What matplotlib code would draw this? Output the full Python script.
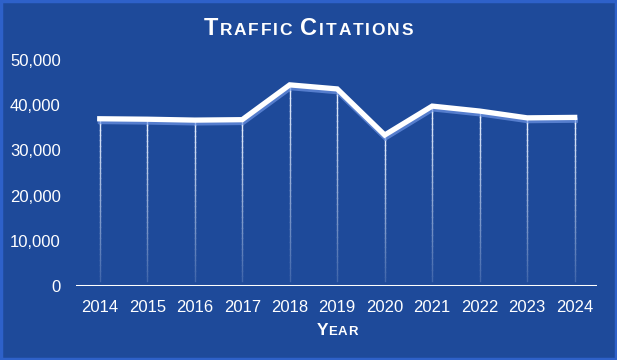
import numpy as np
import matplotlib
matplotlib.use('Agg')
import matplotlib.pyplot as plt
import matplotlib.patheffects as pe
from matplotlib.collections import LineCollection
from matplotlib.colors import to_rgb
from matplotlib.patches import Rectangle
from matplotlib.ticker import FuncFormatter

# data
years = [2014, 2015, 2016, 2017, 2018, 2019, 2020, 2021, 2022, 2023, 2024]
citations = [37000, 36900, 36700, 36800, 44500, 43600, 33400, 39800, 38700, 37200, 37300]
y_ticks = [0, 10000, 20000, 30000, 40000, 50000]

BG = '#1e4a9a'
FONT = 'Liberation Sans'


def small_caps(fig, text, xc, yc, big, small, spacing=1.5):
    # draw text in fake small caps, centred at (xc, yc) in figure pixels
    r = fig.canvas.get_renderer()
    pieces = []
    prev_space = True
    for ch in text:
        if ch == ' ':
            pieces.append((' ', small))
            prev_space = True
            continue
        size = big if prev_space else small
        pieces.append((ch.upper(), size))
        prev_space = False
    objs = []
    widths = []
    for ch, size in pieces:
        t = fig.text(0, 0, ch if ch != ' ' else 'I', fontsize=size, fontweight='bold',
                     color='white', family=FONT, va='baseline', ha='left',
                     transform=None)
        w = t.get_window_extent(r).width
        if ch == ' ':
            t.remove()
            t = None
        objs.append(t)
        widths.append(w)
    total = sum(widths) + spacing * (len(widths) - 1)
    x = xc - total / 2
    for t, w in zip(objs, widths):
        if t is not None:
            t.set_position((x, yc))
        x += w + spacing


def main():
    fig = plt.figure(figsize=(6.17, 3.6), dpi=100, facecolor=BG)
    ax = fig.add_axes([76 / 617, 74 / 360, 521 / 617, 226 / 360])
    ax.set_facecolor(BG)

    x = np.array(years, dtype=float)
    y = np.array(citations, dtype=float)

    # vertical drop lines fading toward the axis (opaque colour blend)
    top = np.array(to_rgb('#e8f0ff'))
    bot = np.array(to_rgb(BG))
    segs = []
    cols = []
    n = 30
    for xi, yi in zip(x, y):
        ys = np.linspace(yi, 1000, n + 1)
        for k in range(n):
            segs.append([(xi, ys[k]), (xi, ys[k + 1])])
            f = 0.85 * k / n
            cols.append(tuple(top * (1 - f) + bot * f))
    ax.add_collection(LineCollection(segs, colors=cols, linewidths=1.0, zorder=2,
                                     capstyle='projecting'))

    ax.plot(x, y, color='white', lw=3.8, solid_joinstyle='miter', zorder=3,
            path_effects=[pe.SimpleLineShadow(offset=(0.5, -2.0), shadow_color='#6d94e4',
                                              alpha=0.7),
                          pe.Normal()])

    ax.axhline(0, color='white', lw=2.2, zorder=4)

    ax.set_xlim(2013.5, 2024.47)
    ax.set_ylim(0, 50000)
    ax.set_xticks(years)
    ax.set_yticks(y_ticks)
    ax.yaxis.set_major_formatter(FuncFormatter(lambda v, p: f'{int(v):,}'))
    for s in ax.spines.values():
        s.set_visible(False)
    ax.tick_params(axis='both', length=0, colors='white', labelsize=12)
    ax.tick_params(axis='y', pad=11)
    ax.tick_params(axis='x', pad=10)
    for lab in ax.get_xticklabels() + ax.get_yticklabels():
        lab.set_family(FONT)

    # titles in small caps
    small_caps(fig, 'Traffic Citations', 308, 360 - 35, 17, 12.5, spacing=1.8)
    small_caps(fig, 'Year', 337, 360 - 335, 12.5, 9.5, spacing=0.5)

    fig.patches.append(Rectangle((0.0015, 0.0025), 0.997, 0.995, transform=fig.transFigure,
                                 fill=False, edgecolor='#2e61c9', lw=2.5))

    fig.savefig('out.png', dpi=100, facecolor=BG)


if __name__ == '__main__':
    main()
